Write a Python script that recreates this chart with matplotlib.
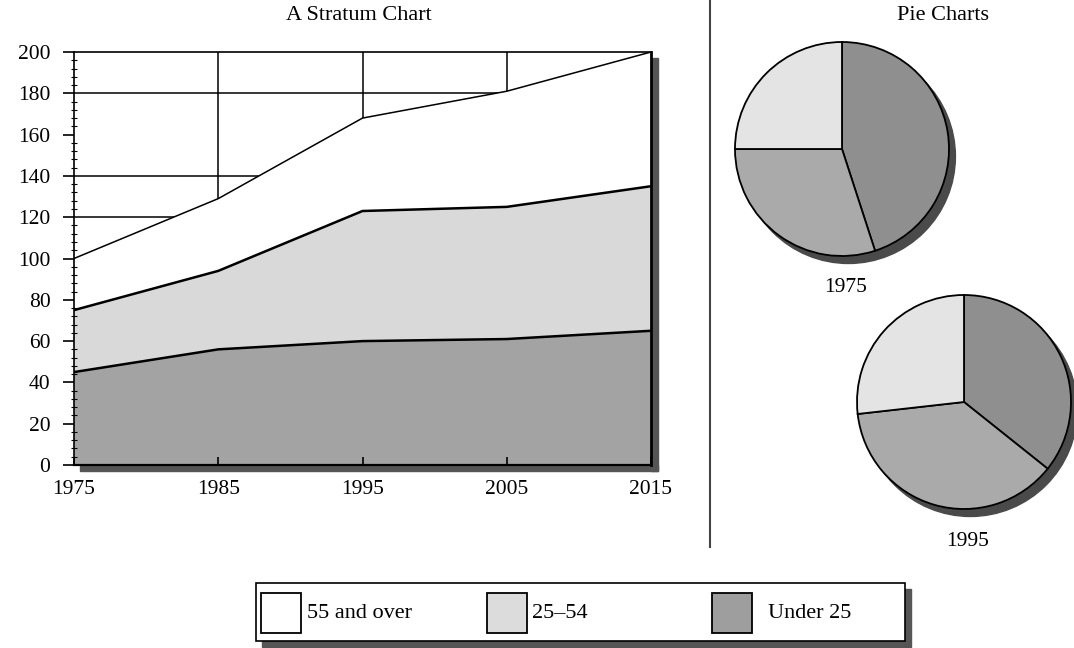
import numpy as np
import matplotlib.pyplot as plt
from matplotlib.patches import Rectangle, Circle
from matplotlib.lines import Line2D

# population by age band, stacked from the bottom
years = [1975, 1985, 1995, 2005, 2015]
under_25 = [45, 56, 60, 61, 65]
age_25_54 = [30, 38, 63, 64, 70]
over_55 = [25, 35, 45, 56, 65]
band_names = ['55 and over', '25–54', 'Under 25']
pie_years = [1975, 1995]

plt.rcParams['font.family'] = ['Liberation Serif', 'DejaVu Serif']

W, H = 1074, 648
fig = plt.figure(figsize=(W / 100, H / 100), dpi=100)


def fx(x):
    return x / W


def fy(y):
    return 1 - y / H


def box(x0, y0, x1, y1):
    return [fx(x0), fy(y1), (x1 - x0) / W, (y1 - y0) / H]


def fig_rect(x0, y0, x1, y1, **kw):
    r = Rectangle((fx(x0), fy(y1)), (x1 - x0) / W, (y1 - y0) / H,
                  transform=fig.transFigure, **kw)
    fig.add_artist(r)
    return r


# --- stratum chart ---
ax = fig.add_axes(box(74, 52, 651, 465))
lower = np.array(under_25)
middle = lower + np.array(age_25_54)
top = middle + np.array(over_55)

for yv in [120, 140, 180]:
    ax.axhline(yv, color='black', lw=1.1, zorder=0)
for xv in years[1:-1]:
    ax.axvline(xv, color='black', lw=1.1, zorder=0)

ax.stackplot(years, under_25, age_25_54, over_55,
             colors=['#a3a3a3', '#d9d9d9', 'white'], lw=0, zorder=1)
ax.plot(years, lower, color='black', lw=1.8, zorder=2)
ax.plot(years, middle, color='black', lw=1.8, zorder=2)
ax.plot(years, top, color='black', lw=1.1, zorder=2)

ax.set_xlim(1975, 2015)
ax.set_ylim(0, 200)
ax.set_yticks(range(0, 201, 20))
ax.set_yticks(range(0, 201, 4), minor=True)
ax.set_xticks(years)
ax.tick_params(axis='y', which='major', direction='out', length=8,
               width=1.2, pad=9, labelsize=15.5)
ax.tick_params(axis='y', which='minor', direction='inout', length=5, width=0.8)
ax.tick_params(axis='x', which='major', direction='in', length=6,
               width=1.2, pad=11, labelsize=15.5)
ax.spines['top'].set_linewidth(1.2)
ax.spines['left'].set_linewidth(1.2)
ax.spines['bottom'].set_linewidth(1.6)
ax.spines['right'].set_linewidth(2.0)

# drop shadow along the right and bottom edges
fig_rect(651, 58, 658, 471, color='#555555', zorder=0)
fig_rect(80, 465, 658, 471, color='#555555', zorder=0)

fig.text(fx(359), fy(16), 'A Stratum Chart', ha='center', va='center',
         fontsize=16)

# --- pie charts ---
fig.add_artist(Line2D([fx(710), fx(710)], [fy(0), fy(547)],
                      transform=fig.transFigure, color='#444444', lw=1.5))
fig.text(fx(943), fy(15), 'Pie Charts', ha='center', va='center', fontsize=16)

pie_colors = ['#8f8f8f', '#aaaaaa', '#e4e4e4']
pie_spots = [(842, 149, 107), (964, 402, 107)]
for yr, (cx, cy, r) in zip(pie_years, pie_spots):
    i = years.index(yr)
    vals = [under_25[i], age_25_54[i], over_55[i]]
    half = 125
    pax = fig.add_axes(box(cx - half, cy - half, cx + half, cy + half))
    pax.add_patch(Circle((0.06, -0.07), 1, color='#4a4a4a', zorder=0))
    pax.pie(vals, radius=1, startangle=90, counterclock=False,
            colors=pie_colors,
            wedgeprops=dict(edgecolor='black', linewidth=1.3))
    lim = half / r
    pax.set_xlim(-lim, lim)
    pax.set_ylim(-lim, lim)
    pax.axis('off')
    fig.text(fx(cx + 4), fy(cy + 139), str(yr), ha='center', va='center',
             fontsize=15.5)

# --- legend ---
fig_rect(262, 589, 911, 647, color='#555555', zorder=0)
fig_rect(256, 583, 905, 641, facecolor='white', edgecolor='black',
         lw=1.2, zorder=1)
legend_colors = ['white', '#dcdcdc', '#9e9e9e']
square_x = [261, 487, 712]
text_x = [307, 532, 768]
for name, col, sx, tx in zip(band_names, legend_colors, square_x, text_x):
    fig_rect(sx, 593, sx + 40, 633, facecolor=col, edgecolor='black',
             lw=1.3, zorder=2)
    fig.text(fx(tx), fy(613), name, ha='left', va='center', fontsize=16,
             zorder=3)

fig.savefig('out.png', dpi=100)
